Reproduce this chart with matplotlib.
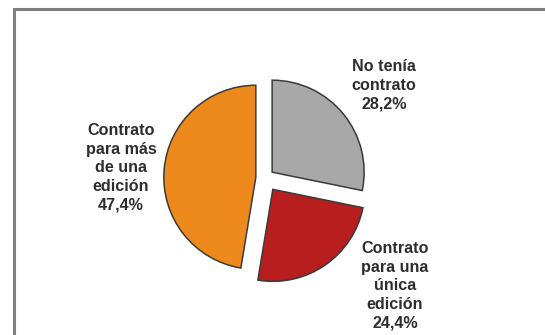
import matplotlib
matplotlib.use("Agg")
import matplotlib.pyplot as plt
from matplotlib.patches import Rectangle

categories = ["No tenía\ncontrato", "Contrato\npara una\núnica\nedición", "Contrato\npara más\nde una\nedición"]
values = [28.2, 24.4, 47.4]
value_labels = ["28,2%", "24,4%", "47,4%"]
colors = ["#a8a8a8", "#b81e1e", "#ee8a1c"]

W, H = 545, 335
fig = plt.figure(figsize=(W / 100, H / 100), dpi=100)
fig.patch.set_facecolor("white")

# frame (top and left edges visible, extends beyond the image)
fig.patches.append(Rectangle((14 / W, -0.1), 1.2, (H - 9) / H + 0.1,
                             transform=fig.transFigure, fill=False,
                             edgecolor="#808080", linewidth=2.2, zorder=0))

ax = fig.add_axes([0, 0, 1, 1])
R = 92.0
cx, cy = 265.0, 178.0
wedges, _ = ax.pie(values, colors=colors, startangle=90, counterclock=False,
                   explode=[0.1, 0.15, 0.1], radius=1.0,
                   wedgeprops=dict(edgecolor="#3a3a3a", linewidth=1.1))
ax.set_aspect("auto")
ax.set_xlim(-cx / R, (W - cx) / R)
ax.set_ylim(-(H - cy) / R, cy / R)
ax.axis("off")

label_pos = [(384, 85), (395, 286), (121, 168)]
for cat, vl, (px, py) in zip(categories, value_labels, label_pos):
    ax.text((px - cx) / R, (cy - py) / R, cat + "\n" + vl,
            ha="center", va="center", fontsize=11.6, fontweight="bold",
            family=["Liberation Sans", "DejaVu Sans"], color="#2e2e2e",
            linespacing=1.3)

fig.savefig("out.png", dpi=100, facecolor="white")
